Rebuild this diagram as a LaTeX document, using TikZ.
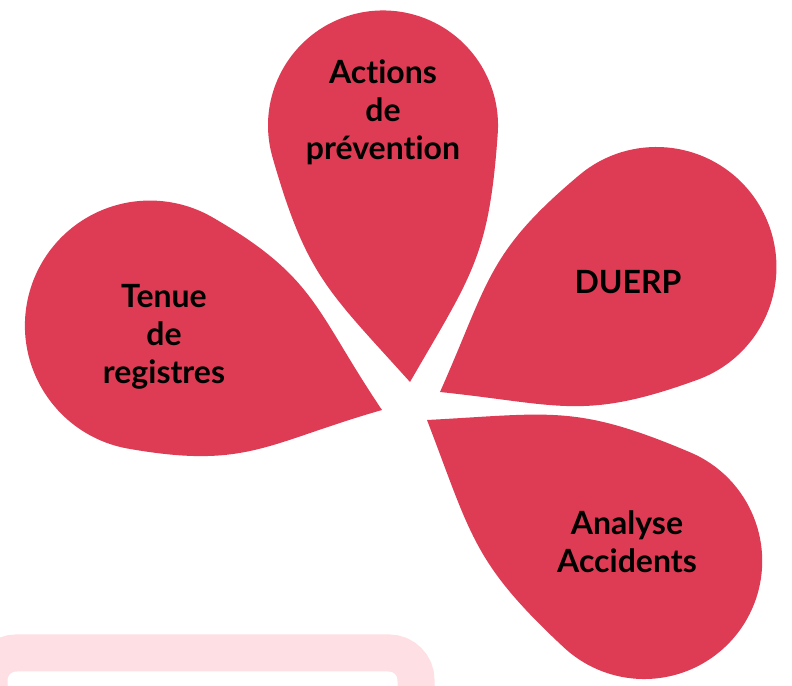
\documentclass[tikz,border=0pt]{standalone}
\usepackage{fontspec}
\setmainfont{Lato}[Ligatures=NoCommon]
\usepackage{tikz}
\definecolor{petalred}{HTML}{DD3C54}
\definecolor{softpink}{HTML}{FDDFE4}

\begin{document}
\begin{tikzpicture}[
    x=1pt, y=1pt,
    petal/.style={fill=petalred},
    frame/.style={draw=softpink, line width=37pt, rounded corners=27pt},
    label/.style={align=center, font=\fontsize{32}{38}\selectfont\bfseries, text=black}
]

\clip (0,0) rectangle (792,685);

% pale frame at the bottom
\draw[frame] (-11,-80) rectangle (416,32);

% petals: tip x / tip y / direction / length to centre / radius
\foreach \tx/\ty/\ang/\len/\rad in {410/303/96/258/115, 382/275/160/247/125, 440/293/30/250/120, 427/265/-33/259/118} {
  \begin{scope}[shift={(\tx,\ty)}, rotate=\ang]
    \fill[petal] (0,0) to[out=36,in=190,looseness=1.2] ({\len-0.174*\rad},{0.985*\rad})
      arc[start angle=100, end angle=-100, radius=\rad]
      to[out=170,in=-36,looseness=1.2] (0,0) -- cycle;
  \end{scope}
}

\node[label] (prev) at (383,573) {Actions\\de\\prévention};
\node[label] (reg) at (164,348) {Tenue\\de\\registres};
\node[label] (duerp) at (628,403) {DUERP};
\node[label] (acc) at (627,143) {Analyse\\Accidents};

\end{tikzpicture}
\end{document}
